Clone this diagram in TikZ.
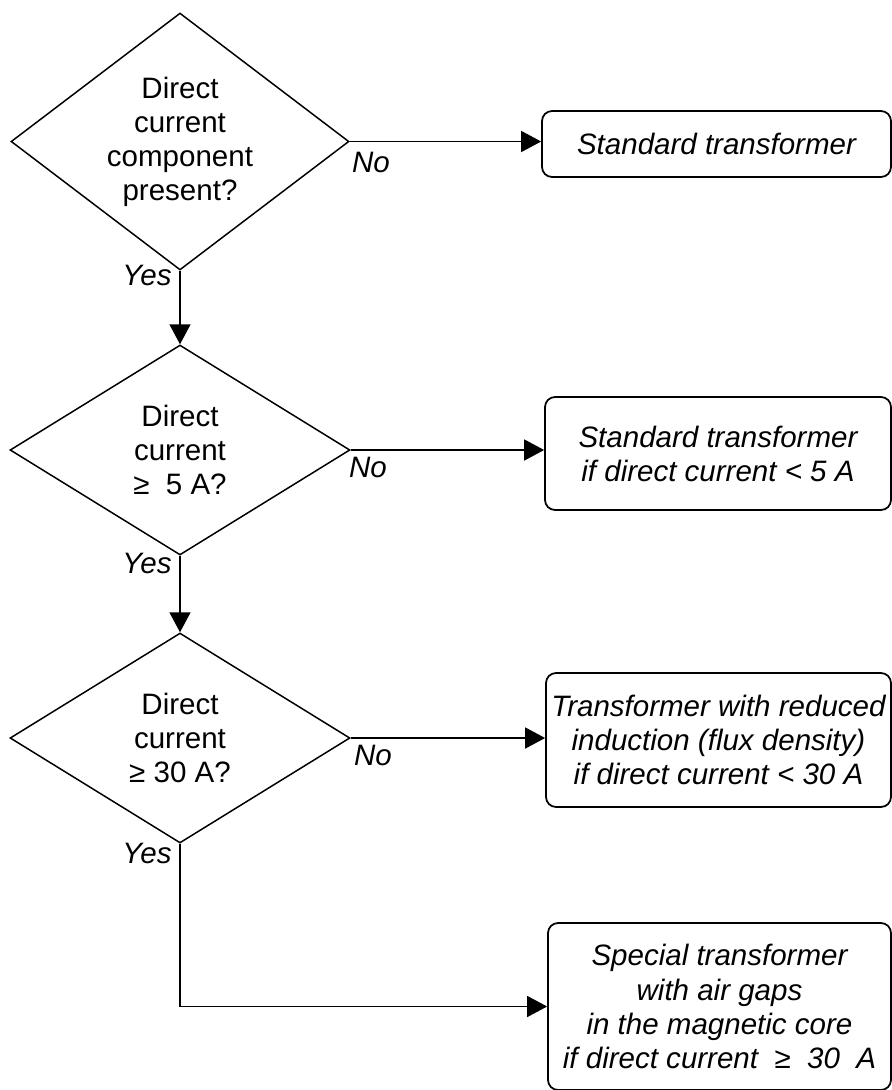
\documentclass[tikz,border=0pt]{standalone}
\usepackage{fontspec}
\setmainfont{Liberation Sans}
\usepackage{tikz}
\usetikzlibrary{shapes.geometric}
\usetikzlibrary{arrows.meta}
\newcommand{\flowfont}{\fontsize{16.8pt}{19.4pt}\selectfont}
\tikzset{
  decision/.style={draw, diamond, aspect=1.3, inner sep=0pt, align=center,
    line width=0.85pt, font=\flowfont, minimum width=6.8cm, minimum height=4.2cm},
  outcome/.style={draw, rectangle, rounded corners=0.2cm, inner sep=0pt,
    align=center, line width=1pt, font=\flowfont\itshape},
  flow/.style={-{Triangle[length=4mm,width=4.2mm]}, line width=0.85pt},
  answer/.style={inner sep=0pt, font=\flowfont\itshape}
}

\begin{document}
\begin{tikzpicture}[x=0.02cm, y=-0.02cm]
\useasboundingbox (0,0) rectangle (892,1090);
\clip (0,0) rectangle (892,1090);
\node[decision, minimum width=6.76cm, minimum height=5.14cm] (dc) at (180,141.5)
  {Direct\\current\\component\\present?};
\node[decision] (dfive) at (180,450) {Direct\\current\\≥~~5 A?};
\node[decision] (dthirty) at (180,738) {Direct\\current\\≥ 30 A?};
\node[outcome, minimum width=6.98cm, minimum height=1.32cm] (std) at (716.5,144)
  {Standard transformer};
\node[outcome, minimum width=6.92cm, minimum height=2.26cm] (stdfive) at (718,453.5)
  {Standard transformer\\if direct current < 5 A};
\node[outcome, minimum width=6.9cm, minimum height=2.68cm] (reduced) at (718.5,740)
  {Transformer with reduced\\induction (flux density)\\if direct current < 30 A};
\node[outcome, minimum width=6.86cm, minimum height=3.34cm] (special) at (719.5,1006.5)
  {Special transformer\\with air gaps\\ in the magnetic core\\if direct current~~≥~~30~~A};
\draw[flow] (dc.east) -- (std.west |- dc.east);
\draw[flow] (dfive.east) -- (stdfive.west |- dfive.east);
\draw[flow] (dthirty.east) -- (reduced.west |- dthirty.east);
\draw[flow] (dc.south) -- (dfive.north);
\draw[flow] (dfive.south) -- (dthirty.north);
\draw[flow] (dthirty.south) |- (special.west);
\node[answer, anchor=base west] (no1) at ([shift={(2,31)}]dc.east) {No};
\node[answer, anchor=base west] (no2) at ([shift={(-2,27)}]dfive.east) {No};
\node[answer, anchor=base west] (no3) at ([shift={(3,27)}]dthirty.east) {No};
\node[answer, anchor=base east] (yes1) at ([shift={(-8,15)}]dc.south) {Yes};
\node[answer, anchor=base east] (yes2) at ([shift={(-8,18)}]dfive.south) {Yes};
\node[answer, anchor=base east] (yes3) at ([shift={(-8,20)}]dthirty.south) {Yes};
\end{tikzpicture}
\end{document}
